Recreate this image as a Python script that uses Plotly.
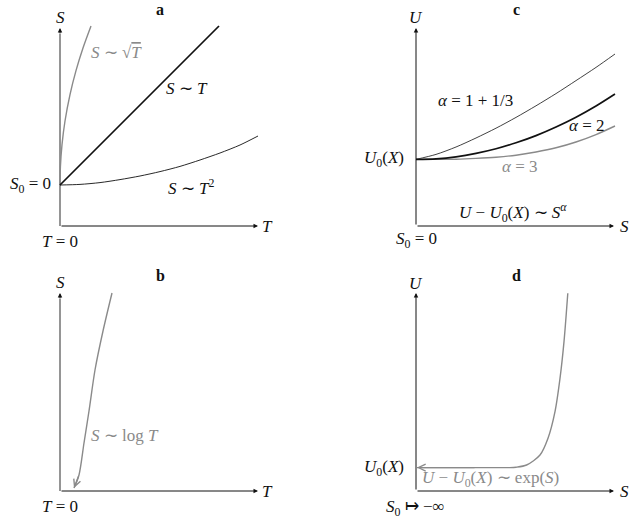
import plotly.graph_objects as go

# ---- data (in panel units) ----
# panel a: S against T
a_lin_T = [0, 7.95]
a_lin_S = [2.05, 10.0]
a_sqrt_T = [0, 0.02, 0.1, 0.25, 0.5, 0.8, 1.15, 1.55]
a_sqrt_S = [2.05, 2.95, 4.07, 5.25, 6.57, 7.77, 8.9, 10.0]
a_sq_T = [0, 1, 2, 3, 4, 5, 6, 7, 8, 9, 9.9]
a_sq_S = [2.05, 2.08, 2.17, 2.32, 2.5, 2.72, 2.98, 3.3, 3.65, 4.05, 4.5]

# panel b: S ~ log T
b_log_T = [2.6, 2.15, 1.75, 1.45, 1.2, 0.95, 0.7]
b_log_S = [9.9, 8.0, 6.05, 4.0, 2.4, 0.8, 0.15]

# panel c: U against S for three exponents
c_S = [0, 1, 2, 3, 4, 5, 6, 7, 8, 9, 9.95]
c_U_43 = [3.33, 3.58, 3.95, 4.4, 4.89, 5.43, 6.01, 6.62, 7.27, 7.93, 8.6]
c_U_2 = [3.33, 3.36, 3.46, 3.63, 3.86, 4.16, 4.52, 4.95, 5.44, 6.0, 6.6]
c_U_3 = [3.33, 3.33, 3.34, 3.38, 3.44, 3.54, 3.7, 3.91, 4.2, 4.57, 5.0]

# panel d: exponential
d_S = [7.59, 7.4, 7.2, 6.95, 6.6, 6.2, 5.53, 5.0, 4.7, 3.0, 0.05]
d_U = [9.89, 7.47, 5.63, 3.97, 2.64, 1.8, 1.3, 1.19, 1.17, 1.17, 1.17]

# ---- layout constants ----
W, H = 635, 519
PX = 20.0                       # pixels per unit
ORIG = {"a": (60, 226), "c": (416, 226), "b": (60, 491), "d": (416, 491)}
COL_SPLIT, ROW_SPLIT = 318, 258
AX_END = 9.9
GRAY = "#8a8a8a"
INK = "#111111"
FONT = "Liberation Serif"
FS = 17

panels = ["a", "c", "b", "d"]
fig = go.Figure()
layout = dict(width=W, height=H, margin=dict(l=0, r=0, t=0, b=0),
              paper_bgcolor="white", plot_bgcolor="white", showlegend=False,
              font=dict(family=FONT, size=FS, color=INK))
ref = {}
for i, p in enumerate(panels, start=1):
    ox, oy = ORIG[p]
    left = ox < COL_SPLIT
    top = oy < ROW_SPLIT + 20
    x0, x1 = (0, COL_SPLIT) if left else (COL_SPLIT, W)
    y0, y1 = (0, ROW_SPLIT) if top else (ROW_SPLIT, H)
    xa = "xaxis" if i == 1 else f"xaxis{i}"
    ya = "yaxis" if i == 1 else f"yaxis{i}"
    layout[xa] = dict(domain=[x0 / W, x1 / W], range=[(x0 - ox) / PX, (x1 - ox) / PX],
                      visible=False, fixedrange=True, anchor=f"y{'' if i == 1 else i}")
    layout[ya] = dict(domain=[1 - y1 / H, 1 - y0 / H], range=[(oy - y1) / PX, (oy - y0) / PX],
                      visible=False, fixedrange=True, anchor=f"x{'' if i == 1 else i}")
    ref[p] = ("x" if i == 1 else f"x{i}", "y" if i == 1 else f"y{i}")
fig.update_layout(**layout)


def line(p, x, y, color, width):
    xr, yr = ref[p]
    fig.add_trace(go.Scatter(x=x, y=y, mode="lines", xaxis=xr, yaxis=yr, hoverinfo="skip",
                             line=dict(color=color, width=width, shape="spline", smoothing=0.8)))


def arrow(p, x, y, ax, ay, color=INK, width=1.0, head=2, size=0.9):
    xr, yr = ref[p]
    fig.add_annotation(x=x, y=y, ax=ax, ay=ay, xref=xr, yref=yr, axref=xr, ayref=yr,
                       text="", showarrow=True, arrowhead=head, arrowsize=size,
                       arrowwidth=width, arrowcolor=color, standoff=0,
                       font=dict(size=FS))


def label(p, x, y, text, color=INK, size=FS, xanchor="center"):
    xr, yr = ref[p]
    fig.add_annotation(x=x, y=y, xref=xr, yref=yr, text=text, showarrow=False,
                       xanchor=xanchor, yanchor="middle",
                       font=dict(family=FONT, size=size, color=color))


# axes
for p in panels:
    arrow(p, AX_END, 0, 0, 0)
    if p in ("a", "b"):
        line(p, [0, 0], [0, AX_END - 0.3], GRAY, 1.8)
        arrow(p, 0, AX_END, 0, AX_END - 0.35)
    else:
        arrow(p, 0, AX_END, 0, 0)

# curves
line("a", a_sq_T, a_sq_S, INK, 0.9)
line("a", a_sqrt_T, a_sqrt_S, GRAY, 1.4)
line("a", a_lin_T, a_lin_S, INK, 1.7)
line("b", b_log_T, b_log_S, GRAY, 1.4)
arrow("b", b_log_T[-1], b_log_S[-1], b_log_T[-2], b_log_S[-2], GRAY, 1.4, head=5, size=1.0)
line("c", c_S, c_U_43, INK, 0.8)
line("c", c_S, c_U_3, GRAY, 1.4)
line("c", c_S, c_U_2, INK, 1.7)
line("d", d_S, d_U, GRAY, 1.4)
arrow("d", d_S[-1], d_U[-1], d_S[-2], d_U[-2], GRAY, 1.4, head=5, size=1.0)

# panel titles
for p, ty in (("a", 10.85), ("c", 10.85), ("b", 10.8), ("d", 10.8)):
    label(p, 5.0, ty, f"<b>{p}</b>", size=16)

# panel a labels
label("a", 0, 10.45, "<i>S</i>")
label("a", 10.35, 0, "<i>T</i>")
label("a", -0.35, 2.05, "<i>S</i><sub>0</sub> = 0", xanchor="right")
label("a", 0, -0.75, "<i>T</i> = 0")
label("a", 2.8, 8.7, "<i>S</i> ∼ √<span style='text-decoration:overline'><i>T</i></span>", GRAY)
label("a", 6.35, 6.9, "<i>S</i> ∼ <i>T</i>")
label("a", 6.55, 1.95, "<i>S</i> ∼ <i>T</i><sup>2</sup>")

# panel b labels
label("b", 0, 10.45, "<i>S</i>")
label("b", 10.35, 0, "<i>T</i>")
label("b", 0, -0.75, "<i>T</i> = 0")
label("b", 1.45, 2.8, "<i>S</i> ∼ log <i>T</i>", GRAY, xanchor="left")

# panel c labels
label("c", 0, 10.45, "<i>U</i>")
label("c", 10.4, 0, "<i>S</i>")
label("c", -0.5, 3.33, "<i>U</i><sub>0</sub>(<i>X</i>)", xanchor="right")
label("c", 0, -0.7, "<i>S</i><sub>0</sub> = 0")
label("c", 2.95, 6.3, "<i>α</i> = 1 + 1/3")
label("c", 8.55, 5.05, "<i>α</i> = 2")
label("c", 5.2, 3.0, "<i>α</i> = 3", GRAY)
label("c", 4.85, 0.7, "<i>U</i> − <i>U</i><sub>0</sub>(<i>X</i>) ∼ <i>S</i><sup><i>α</i></sup>")

# panel d labels
label("d", 0, 10.4, "<i>U</i>")
label("d", 10.4, 0, "<i>S</i>")
label("d", -0.5, 1.15, "<i>U</i><sub>0</sub>(<i>X</i>)", xanchor="right")
label("d", 3.7, 0.62, "<i>U</i> − <i>U</i><sub>0</sub>(<i>X</i>) ∼ exp(<i>S</i>)", GRAY)
label("d", -0.05, -0.85, "<i>S</i><sub>0</sub> ↦ −∞")

# drop the default page margin so the figure sits at the window corner
fig.write_html("out.html", config={"displayModeBar": False},
               post_script="document.body.style.margin='0';")
